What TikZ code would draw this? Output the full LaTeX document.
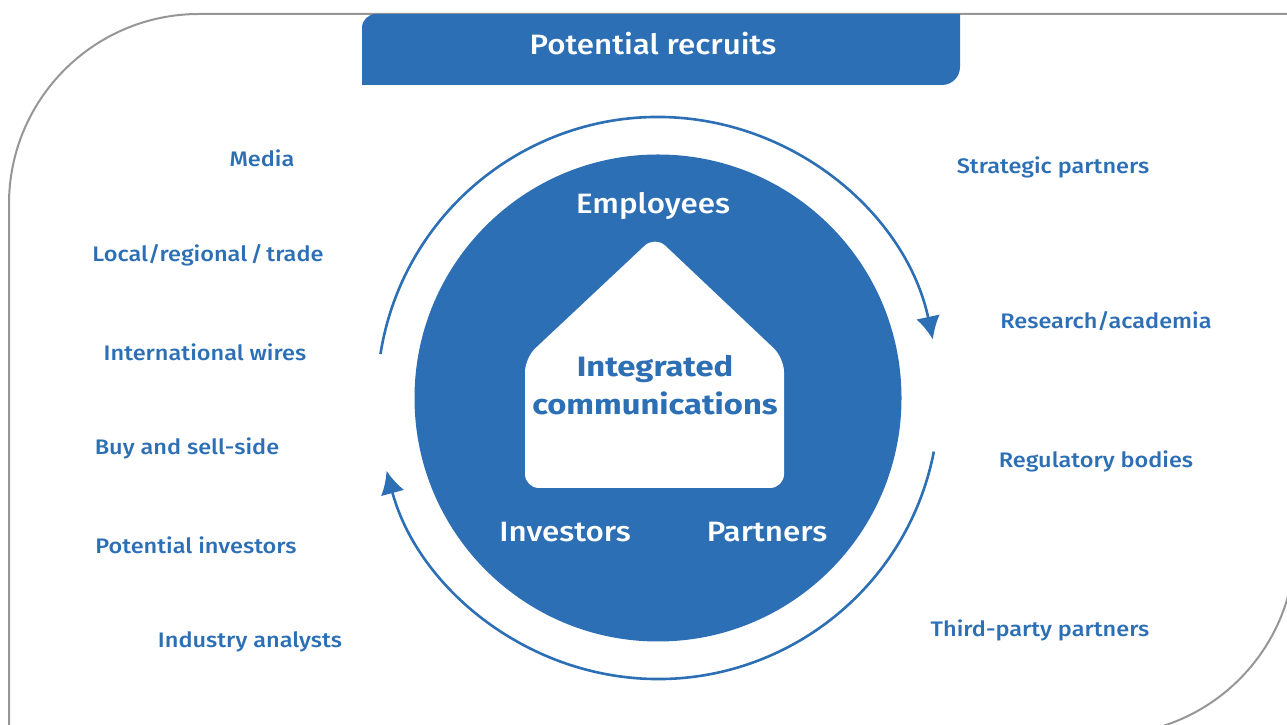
\documentclass[tikz,border=0pt]{standalone}
\usepackage{fontspec}
\setmainfont{Fira Sans}
\newfontfamily\medfont{Fira Sans}[UprightFont=* Medium,FakeStretch=1.12]
\newfontfamily\boldfont{Fira Sans}[UprightFont=* Bold,FakeStretch=1.17]
\usetikzlibrary{arrows.meta}

\definecolor{corpblue}{RGB}{44,111,181}
\definecolor{framegray}{RGB}{150,150,150}

\tikzstyle{stakeholder} = [text=corpblue,font=\medfont\fontsize{21}{24}\selectfont]
\tikzstyle{group} = [text=white,font=\medfont\fontsize{28}{32}\selectfont]
\tikzstyle{core} = [text=corpblue,font=\boldfont\fontsize{28}{38}\selectfont,align=center]
\tikzstyle{cycle} = [corpblue,line width=2.6pt,-{Latex[length=23pt,width=24pt]}]

\begin{document}
\begin{tikzpicture}[x=1pt,y=1pt]
		\useasboundingbox (0,0) rectangle (1287,725);
		% frame
		\begin{scope}
		\clip (0,0) rectangle (1287,725);
		\draw[framegray,line width=2pt] (9,-5) -- (9,521) arc[start angle=180,end angle=90,radius=190] -- (1295,711) -- (1295,180) arc[start angle=0,end angle=-90,radius=190] -- (900,-10);
		\end{scope}
		% tab
		\fill[corpblue] (362,640) -- (362,697) arc[start angle=180,end angle=90,radius=14] -- (960,711) -- (960,658) arc[start angle=0,end angle=-90,radius=18] -- cycle;
		\node[group] (recruits) at (653,681) {Potential recruits};
		% hub
		\coordinate (hub) at (658,327);
		\fill[corpblue] (hub) circle[radius=243.5];
		\fill[white,rounded corners=14pt] (525,237) -- (525,367) -- (655,489) -- (784,367) -- (784,237) -- cycle;
		\node[core] (integrated) at (655,340) {Integrated\\communications};
		\node[group] (employees) at (653,519) {Employees};
		\node[group] (investors) at (565,193) {Investors};
		\node[group] (partners) at (767,193) {Partners};
		% cycle arrows
		\draw[cycle] (hub) ++(171:281) arc[start angle=171,end angle=12,radius=281];
		\draw[cycle] (hub) ++(-11:281) arc[start angle=-11,end angle=-165,radius=281];
		% left side
		\node[stakeholder] (media) at (262,567) {Media};
		\node[stakeholder] (local) at (208,470) {Local/regional\,/\,trade};
		\node[stakeholder] (wires) at (205,373) {International wires};
		\node[stakeholder] (buysell) at (187,277) {Buy and sell-side};
		\node[stakeholder] (potinv) at (196,180) {Potential investors};
		\node[stakeholder] (analysts) at (250,83) {Industry analysts};
		% right side
		\node[stakeholder] (strategic) at (1053,558) {Strategic partners};
		\node[stakeholder] (research) at (1106,404) {Research/academia};
		\node[stakeholder] (regulatory) at (1096,264) {Regulatory bodies};
		\node[stakeholder] (thirdparty) at (1040,95) {Third-party partners};
\end{tikzpicture}
\end{document}
